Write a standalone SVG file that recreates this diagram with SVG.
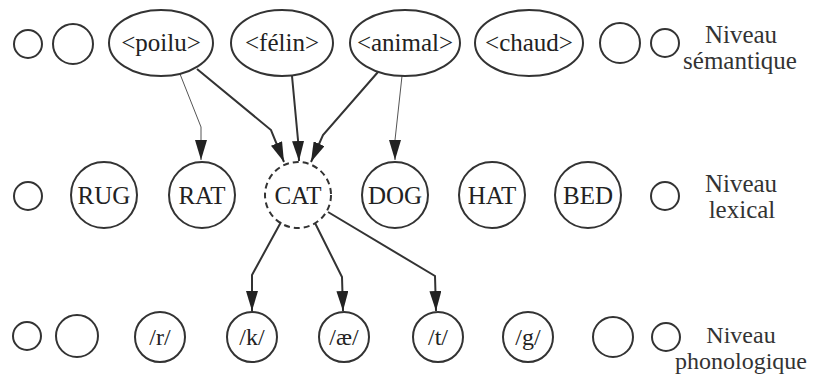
<svg xmlns="http://www.w3.org/2000/svg" width="813" height="376" viewBox="0 0 813 376">
<defs>
<style>
.n{fill:none;stroke:#333;stroke-width:2}
.d{fill:none;stroke:#333;stroke-width:2;stroke-dasharray:6 4}
.t{font-family:"Liberation Serif","Times New Roman",serif;font-size:25px;fill:#222;text-anchor:middle}
.p{font-family:"Liberation Serif","Times New Roman",serif;font-size:24px;fill:#222;text-anchor:middle}
.lv{font-family:"Liberation Serif","Times New Roman",serif;font-size:25px;fill:#333;text-anchor:middle}
.thick{fill:none;stroke:#333;stroke-width:2}
.thin{fill:none;stroke:#555;stroke-width:1}
</style>
<marker id="ahb" viewBox="0 0 20 12" refX="20" refY="6" markerWidth="20" markerHeight="12" markerUnits="userSpaceOnUse" orient="auto">
<path d="M0,0 L20,6 L0,12 z" fill="#222"/>
</marker>
</defs>
<rect width="813" height="376" fill="#fff"/>

<g id="connectors">
<polyline class="thin" points="180,74 201,127 201,160" marker-end="url(#ahb)"/>
<polyline class="thick" points="197,69 271,130 284,162" marker-end="url(#ahb)"/>
<polyline class="thick" points="292,76 298,140 299,161" marker-end="url(#ahb)"/>
<polyline class="thick" points="378,72 323,135 311,162" marker-end="url(#ahb)"/>
<polyline class="thin" points="402,76 395,140 395,160" marker-end="url(#ahb)"/>
<polyline class="thick" points="281,222 252,275 252,311" marker-end="url(#ahb)"/>
<polyline class="thick" points="315,223 342,277 343,311" marker-end="url(#ahb)"/>
<polyline class="thick" points="328,212 435,276 436,311" marker-end="url(#ahb)"/>
</g>

<g id="s-c1"><circle class="n" cx="28" cy="44" r="14"/></g>
<g id="s-c2"><circle class="n" cx="73" cy="44" r="20"/></g>
<g id="s-poilu"><ellipse class="n" cx="161" cy="43" rx="52" ry="33"/><text class="t" x="161" y="51">&lt;poilu&gt;</text></g>
<g id="s-felin"><ellipse class="n" cx="282" cy="43" rx="51" ry="33"/><text class="t" x="282" y="51">&lt;félin&gt;</text></g>
<g id="s-animal"><ellipse class="n" cx="405" cy="43" rx="55" ry="33"/><text class="t" x="405" y="51">&lt;animal&gt;</text></g>
<g id="s-chaud"><ellipse class="n" cx="529" cy="43" rx="54" ry="33"/><text class="t" x="529" y="51">&lt;chaud&gt;</text></g>
<g id="s-c3"><circle class="n" cx="620" cy="43" r="20"/></g>
<g id="s-c4"><circle class="n" cx="665" cy="43" r="14"/></g>
<g id="s-label"><text class="lv" x="741" y="43">Niveau</text><text class="lv" x="740" y="69">sémantique</text></g>

<g id="l-c1"><circle class="n" cx="28" cy="196" r="14"/></g>
<g id="l-rug"><circle class="n" cx="104" cy="195" r="33"/><text class="t" x="104" y="204">RUG</text></g>
<g id="l-rat"><circle class="n" cx="202" cy="195" r="33"/><text class="t" x="202" y="204">RAT</text></g>
<g id="l-cat"><circle class="d" cx="298" cy="195" r="33"/><text class="t" x="298" y="204">CAT</text></g>
<g id="l-dog"><circle class="n" cx="395" cy="195" r="33"/><text class="t" x="395" y="204">DOG</text></g>
<g id="l-hat"><circle class="n" cx="492" cy="195" r="33"/><text class="t" x="492" y="204">HAT</text></g>
<g id="l-bed"><circle class="n" cx="588" cy="195" r="33"/><text class="t" x="588" y="204">BED</text></g>
<g id="l-c2"><circle class="n" cx="665" cy="196" r="14"/></g>
<g id="l-label"><text class="lv" x="741" y="192">Niveau</text><text class="lv" x="742" y="218">lexical</text></g>

<g id="p-c1"><circle class="n" cx="27" cy="336" r="14"/></g>
<g id="p-c2"><circle class="n" cx="77" cy="336" r="21"/></g>
<g id="p-r"><circle class="n" cx="160" cy="337" r="25"/><text class="p" x="160" y="345">/r/</text></g>
<g id="p-k"><circle class="n" cx="252" cy="337" r="25"/><text class="p" x="252" y="345">/k/</text></g>
<g id="p-ae"><circle class="n" cx="344" cy="337" r="25"/><text class="p" x="344" y="345">/æ/</text></g>
<g id="p-t"><circle class="n" cx="438" cy="337" r="25"/><text class="p" x="438" y="345">/t/</text></g>
<g id="p-g"><circle class="n" cx="528" cy="337" r="25"/><text class="p" x="528" y="345">/g/</text></g>
<g id="p-c3"><circle class="n" cx="613" cy="337" r="20"/></g>
<g id="p-c4"><circle class="n" cx="666" cy="337" r="14"/></g>
<g id="p-label"><text class="lv" x="741" y="343" style="font-size:24px">Niveau</text><text class="lv" x="741" y="369" style="font-size:24px">phonologique</text></g>
</svg>
